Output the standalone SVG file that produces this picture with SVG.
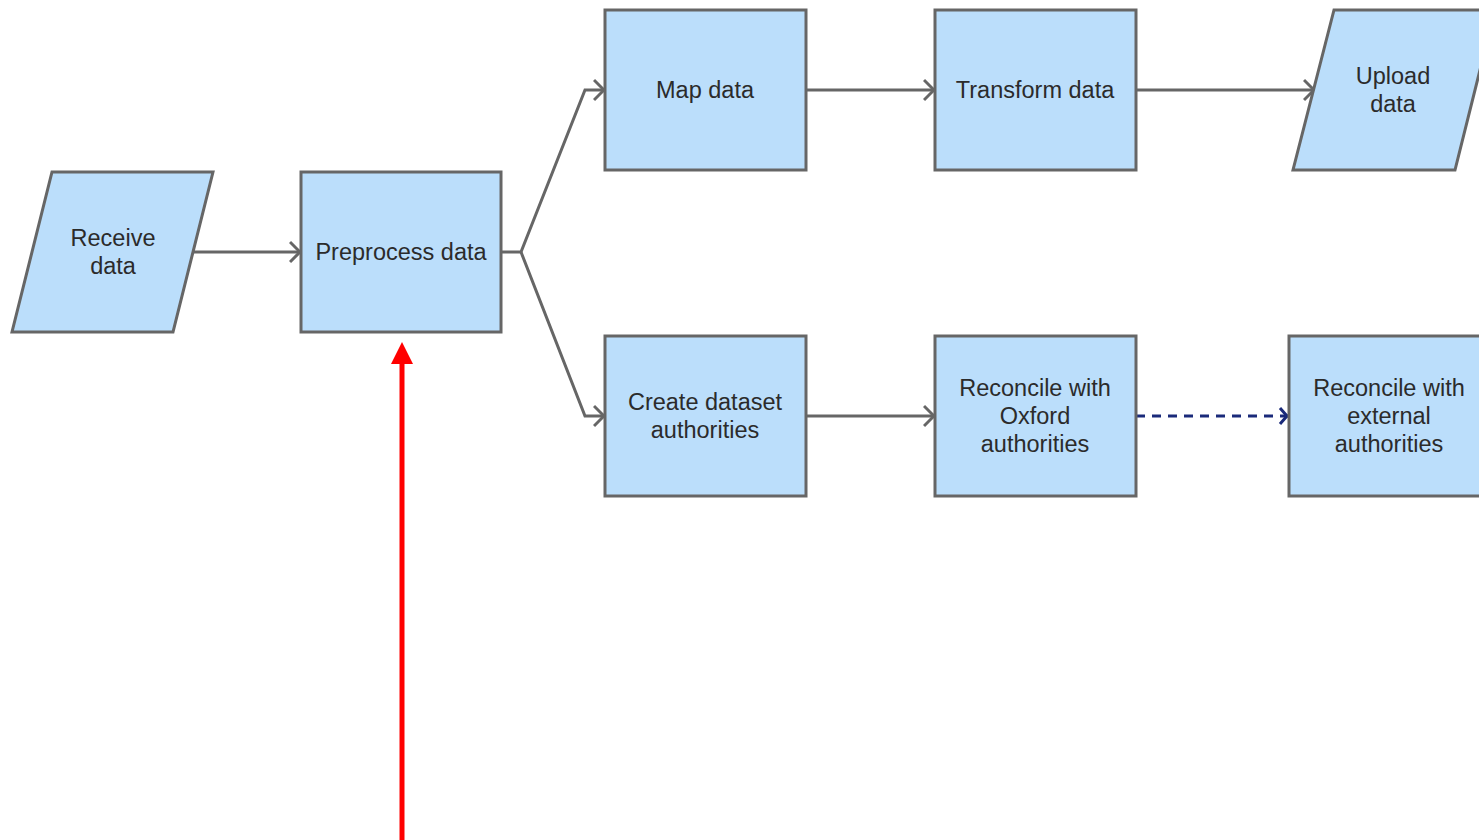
<svg xmlns="http://www.w3.org/2000/svg" width="1479" height="840" viewBox="0 0 1479 840">
<style>
.n{fill:#bbdefb;stroke:#666;stroke-width:3}
.t{font-family:"Liberation Sans",Arial,sans-serif;font-size:23.5px;fill:#2b2b2b;text-anchor:middle}
.c{fill:none;stroke:#666;stroke-width:3}
.d{fill:none;stroke:#1a2a7a;stroke-width:3;stroke-dasharray:9,7}
</style>
<defs>
<marker id="a" viewBox="0 0 12 24" refX="11" refY="12" markerWidth="12" markerHeight="24" markerUnits="userSpaceOnUse" orient="auto"><path d="M1,2 L11,12 L1,22" fill="none" stroke="#666" stroke-width="3"/></marker>
<marker id="ad" viewBox="0 0 12 20" refX="11" refY="10" markerWidth="12" markerHeight="20" markerUnits="userSpaceOnUse" orient="auto"><path d="M3,2 L10,10 L3,18" fill="none" stroke="#1a2a7a" stroke-width="3"/></marker>
</defs>
<g id="connectors">
<path class="c" d="M193,252 H300" marker-end="url(#a)"/>
<path class="c" d="M501,252 H521 L585,90 H604" marker-end="url(#a)"/>
<path class="c" d="M521,252 L585,416 H604" marker-end="url(#a)"/>
<path class="c" d="M806,90 H934" marker-end="url(#a)"/>
<path class="c" d="M1136,90 H1314" marker-end="url(#a)"/>
<path class="c" d="M806,416 H934" marker-end="url(#a)"/>
<path class="d" d="M1136,416 H1288" marker-end="url(#ad)"/>
<path d="M402,840 V362" stroke="#f00" stroke-width="5" fill="none"/>
<path d="M391,364 L402,342 L413,364 Z" fill="#f00"/>
</g>
<g id="receive"><path class="n" d="M52,172 H213 L173,332 H12 Z"/><text class="t"><tspan x="113" y="246">Receive</tspan><tspan x="113" y="274">data</tspan></text></g>
<g id="preprocess"><rect class="n" x="301" y="172" width="200" height="160"/><text class="t" x="401" y="260">Preprocess data</text></g>
<g id="map"><rect class="n" x="605" y="10" width="201" height="160"/><text class="t" x="705" y="98">Map data</text></g>
<g id="transform"><rect class="n" x="935" y="10" width="201" height="160"/><text class="t" x="1035" y="98">Transform data</text></g>
<g id="upload"><path class="n" d="M1334,10 H1495 L1455,170 H1293 Z"/><text class="t"><tspan x="1393" y="84">Upload</tspan><tspan x="1393" y="112">data</tspan></text></g>
<g id="create"><rect class="n" x="605" y="336" width="201" height="160"/><text class="t"><tspan x="705" y="410">Create dataset</tspan><tspan x="705" y="438">authorities</tspan></text></g>
<g id="oxford"><rect class="n" x="935" y="336" width="201" height="160"/><text class="t"><tspan x="1035" y="396">Reconcile with</tspan><tspan x="1035" y="424">Oxford</tspan><tspan x="1035" y="452">authorities</tspan></text></g>
<g id="external"><rect class="n" x="1289" y="336" width="201" height="160"/><text class="t"><tspan x="1389" y="396">Reconcile with</tspan><tspan x="1389" y="424">external</tspan><tspan x="1389" y="452">authorities</tspan></text></g>
</svg>
